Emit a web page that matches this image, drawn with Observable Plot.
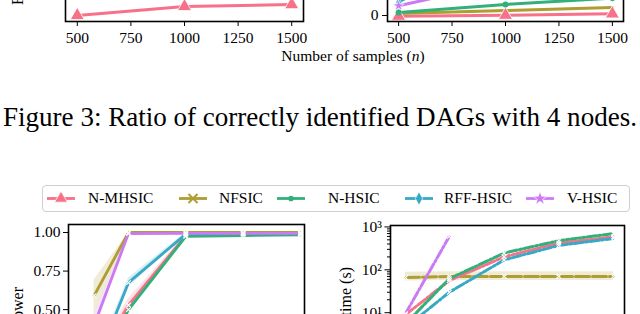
<!DOCTYPE html>
<html><head><meta charset="utf-8">
<script src="https://cdn.jsdelivr.net/npm/d3@7"></script>
<script src="https://cdn.jsdelivr.net/npm/@observablehq/plot@0.6"></script>
<style>
html,body{margin:0;padding:0;background:#fff;}
#page{position:relative;width:640px;height:314px;overflow:hidden;background:#fff;font-family:"Liberation Serif","Times New Roman",Times,serif;color:#000;}
#page svg{position:absolute;}
</style></head>
<body><div id="page"></div>
<script>
// ---------------- data ----------------
const methods = ["N-MHSIC", "NFSIC", "N-HSIC", "RFF-HSIC", "V-HSIC"];
const colors  = ["#f77189", "#ae9d31", "#33b07a", "#38a9c5", "#cc7af4"];

// Figure 3 panels: ratio of correctly identified DAGs vs number of samples
const nDag = [500, 1000, 1500];
const dagTicks = [500, 750, 1000, 1250, 1500];
const dagLeftNMHSIC  = [0.425, 0.462, 0.470];
const dagRightNMHSIC = [-0.005, 0.002, 0.012];
const dagRightNFSIC  = [0.015, 0.036, 0.058];
const dagRightNHSIC  = [0.022, 0.08, 0.125];
const dagRightRFF    = [0.095, 0.55, 0.80];
const dagRightVHSIC  = [0.07, 0.24, 0.50];

// Power panel
const nPower = [200, 500, 1000, 1500, 2000];
const powerTicks = [0.5, 0.75, 1.0];
const powerNMHSIC = [0.15, 0.53, 0.98, 0.99, 0.99];
const powerNMHSIClo = [0.10, 0.49, 0.97, 0.985, 0.985];
const powerNMHSIChi = [0.20, 0.57, 0.99, 1.0, 1.0];
const powerNFSIC = [0.59, 1.0, 1.0, 1.0, 1.0];
const powerNFSIClo = [0.46, 0.99, 1.0, 1.0, 1.0];
const powerNFSIChi = [0.69, 1.0, 1.0, 1.0, 1.0];
const powerNHSIC = [0.08, 0.50, 0.975, 0.98, 0.985];
const powerNHSIClo = [0.04, 0.47, 0.965, 0.975, 0.98];
const powerNHSIChi = [0.12, 0.54, 0.985, 0.99, 0.99];
const powerRFF = [0.12, 0.675, 0.99, 0.995, 0.995];
const powerRFFlo = [0.08, 0.645, 0.98, 0.99, 0.99];
const powerRFFhi = [0.16, 0.705, 1.0, 1.0, 1.0];
const powerVHSIC = [0.40, 0.993, 0.995, 0.995, 0.995];
const powerVHSIClo = [0.34, 0.985, 0.99, 0.99, 0.99];
const powerVHSIChi = [0.46, 1.0, 1.0, 1.0, 1.0];

// Running-time panel (seconds, log scale)
const nTime = [100, 500, 1000, 1500, 2000];
const nTimeV = [100, 500];
const timeTicks = [10, 100, 1000];
const timeNMHSIC = [9, 56, 200, 420, 590];
const timeNFSIC  = [66, 70, 70, 70, 70];
const timeNFSIClo = [55, 56, 56, 56, 56];
const timeNFSIChi = [88, 90, 90, 90, 90];
const timeNHSIC  = [5.5, 62, 245, 480, 700];
const timeRFF    = [4.5, 30, 170, 370, 540];
const timeVHSIC  = [9.5, 600];

// ---------------- helpers ----------------
const page = document.getElementById("page");
const SERIF = "'Liberation Serif','Times New Roman',Times,serif";
const baseStyle = {fontFamily: SERIF, fontSize: "15.5px", color: "#000", background: "transparent"};
const colorScale = {domain: methods, range: colors};
function put(node, left, top) {
  node.style.position = "absolute"; node.style.left = left + "px"; node.style.top = top + "px";
  page.appendChild(node); return node;
}
function series(name, xs, ys, lo, hi) {
  return xs.map((x, i) => ({name, x, y: ys[i], lo: lo ? lo[i] : undefined, hi: hi ? hi[i] : undefined}));
}
const thinDiamond = {draw(ctx, size) {
  const h = Math.sqrt(size) * 0.8, w = h * 0.55;
  ctx.moveTo(0, -h); ctx.lineTo(w, 0); ctx.lineTo(0, h); ctx.lineTo(-w, 0); ctx.closePath();
}};
const MT = 10;

// ---------------- top-left (Figure 3, left panel) ----------------
{
  const inner = 152;
  const d0 = series("N-MHSIC", nDag, dagLeftNMHSIC);
  const p = Plot.plot({
    width: 320, height: MT + inner + 50, marginTop: MT, marginBottom: 50, marginLeft: 65, marginRight: 17,
    style: baseStyle, color: colorScale,
    x: {domain: [445, 1555], label: null}, y: {domain: [0.4, 1.03], label: null, axis: null},
    marks: [
      Plot.line(d0, {x: "x", y: "y", stroke: "name", strokeWidth: 3}),
      Plot.dot(d0, {x: "x", y: "y", fill: "name", stroke: "white", strokeWidth: 0.8, symbol: "triangle", r: 5.2}),
      Plot.axisX({ticks: dagTicks, tickFormat: d => String(d), tickSize: 5, tickPadding: 5, label: null}),
      Plot.frame({stroke: "#000", strokeWidth: 1.6})
    ]
  });
  put(p, 0, 21 - MT - inner);
}

// ---------------- top-right (Figure 3, right panel) ----------------
{
  const inner = 152;
  const s = [
    series("N-MHSIC", nDag, dagRightNMHSIC),
    series("NFSIC", nDag, dagRightNFSIC),
    series("N-HSIC", nDag, dagRightNHSIC),
    series("RFF-HSIC", nDag, dagRightRFF),
    series("V-HSIC", nDag, dagRightVHSIC)
  ];
  const all = s.flat();
  const p = Plot.plot({
    width: 320, height: MT + inner + 50, marginTop: MT, marginBottom: 50, marginLeft: 67, marginRight: 17,
    style: baseStyle, color: colorScale,
    x: {domain: [448, 1552], label: null}, y: {domain: [-0.043, 1.05], label: null},
    marks: [
      Plot.line(all, {x: "x", y: "y", z: "name", stroke: "name", strokeWidth: 3}),
      Plot.dot(s[0], {x: "x", y: "y", fill: "name", stroke: "white", strokeWidth: 0.8, symbol: "triangle", r: 5.2}),
      Plot.dot(s[2], {x: "x", y: "y", fill: "name", r: 3}),
      Plot.dot(s[3], {x: "x", y: "y", fill: "name", stroke: "white", strokeWidth: 0.6, symbol: thinDiamond, r: 3.5}),
      Plot.dot(s[4], {x: "x", y: "y", fill: "name", stroke: "white", strokeWidth: 0.6, symbol: "star", r: 3.5}),
      Plot.axisX({ticks: dagTicks, tickFormat: d => String(d), tickSize: 5, tickPadding: 5, label: null}),
      Plot.axisY({ticks: [0], tickFormat: d => String(d), tickSize: 5, tickPadding: 4, label: null}),
      Plot.frame({stroke: "#000", strokeWidth: 1.6})
    ]
  });
  put(p, 320, 21 - MT - inner);
}

// ---------------- bottom-left (power) ----------------
{
  const inner = 170;
  const all = [
    ...series("N-MHSIC", nPower, powerNMHSIC, powerNMHSIClo, powerNMHSIChi),
    ...series("NFSIC", nPower, powerNFSIC, powerNFSIClo, powerNFSIChi),
    ...series("N-HSIC", nPower, powerNHSIC, powerNHSIClo, powerNHSIChi),
    ...series("RFF-HSIC", nPower, powerRFF, powerRFFlo, powerRFFhi),
    ...series("V-HSIC", nPower, powerVHSIC, powerVHSIClo, powerVHSIChi)
  ];
  const p = Plot.plot({
    width: 320, height: MT + inner + 30, marginTop: MT, marginBottom: 30, marginLeft: 68, marginRight: 16,
    style: baseStyle, color: colorScale,
    x: {domain: [-23, 2035], label: null, axis: null}, y: {domain: [-0.05, 1.052], label: null},
    marks: [
      Plot.areaY(all, {x: "x", y1: "lo", y2: "hi", z: "name", fill: "name", fillOpacity: 0.2}),
      Plot.line(all, {x: "x", y: "y", z: "name", stroke: "name", strokeWidth: 2.8}),
      Plot.dot(all, {x: "x", y: "y", stroke: "white", strokeWidth: 1.1, symbol: "times", r: 2.2}),
      Plot.axisY({ticks: powerTicks, tickFormat: d => d.toFixed(2), tickSize: 5, tickPadding: 3, label: null}),
      Plot.frame({stroke: "#000", strokeWidth: 1.6})
    ]
  });
  put(p, 0, 224 - MT);
}

// ---------------- bottom-right (running time) ----------------
{
  const inner = 143;
  const all = [
    ...series("N-MHSIC", nTime, timeNMHSIC),
    ...series("NFSIC", nTime, timeNFSIC, timeNFSIClo, timeNFSIChi),
    ...series("N-HSIC", nTime, timeNHSIC),
    ...series("RFF-HSIC", nTime, timeRFF),
    ...series("V-HSIC", nTimeV, timeVHSIC)
  ];
  const band = all.filter(d => d.lo !== undefined);
  const sup = {1: "\u00b9", 2: "\u00b2", 3: "\u00b3"};
  const minor = [];
  for (const e of [1, 10, 100]) for (let k = 2; k <= 9; k++) minor.push(k * e);
  const p = Plot.plot({
    width: 320, height: MT + inner + 30, marginTop: MT, marginBottom: 30, marginLeft: 70, marginRight: 16,
    style: baseStyle, color: colorScale,
    x: {domain: [-37, 2100], label: null, axis: null}, y: {type: "log", domain: [0.5, 1080], label: null},
    marks: [
      Plot.areaY(band, {x: "x", y1: "lo", y2: "hi", z: "name", fill: "name", fillOpacity: 0.2}),
      Plot.line(all.filter(d => d.name === "NFSIC"), {x: "x", y: "y", stroke: "name", strokeWidth: 3, strokeDasharray: "14,3"}),
      Plot.line(all.filter(d => d.name !== "NFSIC"), {x: "x", y: "y", z: "name", stroke: "name", strokeWidth: 3, strokeDasharray: "9,2.5,2,2.5"}),
      Plot.dot(all, {x: "x", y: "y", stroke: "white", strokeWidth: 1.1, symbol: "times", r: 2.2}),
      Plot.axisY({ticks: minor, tickFormat: () => "", tickSize: 3, label: null}),
      Plot.axisY({ticks: timeTicks, tickFormat: d => "10" + sup[Math.round(Math.log10(d))], tickSize: 5.5, tickPadding: 3, label: null}),
      Plot.frame({stroke: "#000", strokeWidth: 1.6})
    ]
  });
  put(p, 320, 225 - MT);
}

// ---------------- axis titles overlay ----------------
{
  const svg = d3.create("svg").attr("width", 640).attr("height", 314)
    .style("font-family", SERIF).style("pointer-events", "none");
  svg.append("text").attr("transform", "translate(23,5) rotate(-90)").attr("font-size", 16)
    .attr("text-anchor", "start").text("Fraction");
  const xl = svg.append("text").attr("x", 353).attr("y", 61).attr("font-size", 15.5).attr("text-anchor", "middle");
  xl.append("tspan").text("Number of samples (");
  xl.append("tspan").attr("font-style", "italic").text("n");
  xl.append("tspan").text(")");
  svg.append("text").attr("transform", "translate(23,287) rotate(-90)").attr("font-size", 16)
    .attr("text-anchor", "end").text("Power");
  svg.append("text").attr("transform", "translate(351,267) rotate(-90)").attr("font-size", 16)
    .attr("text-anchor", "end").text("Running time (s)");
  put(svg.node(), 0, 0);
}

// ---------------- caption ----------------
{
  const cap = document.createElement("div");
  cap.textContent = "Figure 3: Ratio of correctly identified DAGs with 4 nodes.";
  cap.style.cssText = "position:absolute;white-space:nowrap;line-height:1;font-size:24px;left:3px;top:104px;";
  page.appendChild(cap);
  const w = cap.getBoundingClientRect().width;
  cap.style.fontSize = (24 * 634 / w).toFixed(2) + "px";
}

// ---------------- legend ----------------
{
  const leg = document.createElement("div");
  leg.style.cssText = "position:absolute;left:42px;top:185px;width:586px;height:25px;border:1px solid #cfcfcf;border-radius:4px;background:#fff;";
  page.appendChild(leg);
  const lineX = [3, 135, 233, 361, 482];
  const textX = [45, 176, 285, 401, 524];
  const types = [d3.symbolTriangle, d3.symbolTimes, d3.symbolCircle, thinDiamond, d3.symbolStar];
  const sizes = [70, 55, 25, 70, 60];
  methods.forEach((m, i) => {
    const s = d3.create("svg").attr("width", 30).attr("height", 25)
      .style("position", "absolute").style("left", lineX[i] + "px").style("top", "0px");
    s.append("line").attr("x1", 1).attr("x2", 29).attr("y1", 12.5).attr("y2", 12.5)
      .attr("stroke", colors[i]).attr("stroke-width", 2.8);
    const sym = s.append("path").attr("transform", "translate(15,12.5)")
      .attr("d", d3.symbol().type(types[i]).size(sizes[i])());
    if (i === 1) sym.attr("fill", "none").attr("stroke", colors[i]).attr("stroke-width", 2);
    else sym.attr("fill", colors[i]).attr("stroke", i === 2 ? "none" : "white").attr("stroke-width", 0.7);
    leg.appendChild(s.node());
    const t = document.createElement("div");
    t.textContent = m;
    t.style.cssText = "position:absolute;top:4px;line-height:1;font-size:15.5px;white-space:nowrap;left:" + textX[i] + "px;";
    leg.appendChild(t);
  });
}
</script>
</body></html>
